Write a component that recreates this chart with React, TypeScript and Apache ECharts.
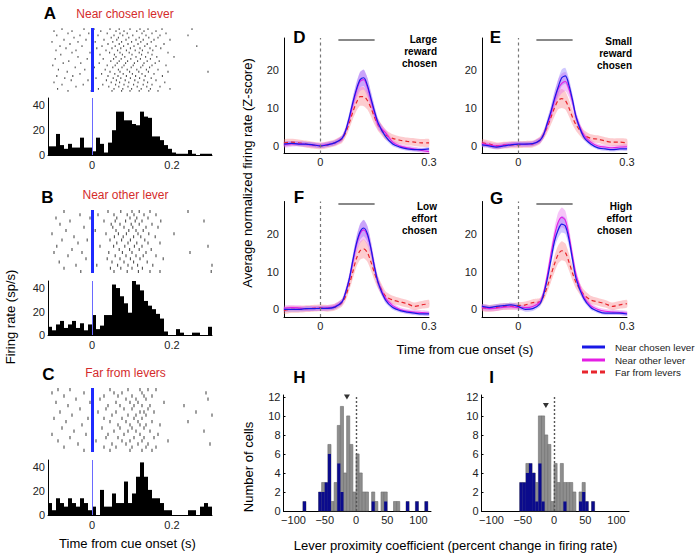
import React, { useEffect, useRef } from 'react';
import * as echarts from 'echarts';

const FONT = '"Liberation Sans", Arial, Helvetica, sans-serif';

// ---------- Panels A-C: PSTH (10 ms bins starting at -0.11 s) ----------
const psthStart = -0.11;
const psthWidth = 0.01;
const psthA = [7, 7, 17, 8, 5, 9, 6, 6, 14, 6, 6, 3, 14, 9, 2, 10, 20, 35, 35, 28, 28, 25, 24, 35, 31, 30, 15, 15, 12, 8, 5, 2, 1, 1, 1, 4, 1, 0, 1, 1, 1];
const psthB = [7, 4, 9, 12, 6, 9, 12, 6, 10, 4, 9, 17, 5, 8, 17, 17, 43, 40, 33, 27, 19, 46, 43, 38, 29, 25, 22, 18, 14, 3, 0, 0, 5, 2, 0, 0, 2, 2, 0, 0, 7];
const psthC = [10, 4, 14, 10, 7, 14, 10, 7, 14, 10, 4, 7, 0, 21, 7, 7, 18, 10, 10, 28, 10, 18, 32, 44, 32, 21, 14, 14, 10, 4, 4, 0, 0, 0, 0, 4, 4, 0, 7, 10, 7];
const cueLine = -0.003;

// rasters: spike times (ms) per trial row
const rasterA = [
  [-75, -20, 5, 45, 68, 95, 120, 140, 175, 250],
  [-95, -50, 22, 60, 80, 112, 130, 160],
  [-60, -8, 38, 70, 88, 125, 150, 185],
  [-88, -30, 15, 55, 77, 102, 135, 170, 240],
  [-45, 48, 66, 92, 118, 142, 165],
  [-70, -15, 30, 62, 85, 110, 128, 155, 195],
  [-100, -35, 8, 52, 74, 99, 122, 148],
  [-55, 40, 68, 90, 115, 138, 180],
  [-80, -25, 25, 58, 79, 105, 132, 160, 262],
  [-65, 12, 50, 72, 96, 120, 145, 172],
  [-90, -40, 35, 64, 86, 108, 126, 152],
  [-50, -5, 44, 70, 93, 118, 140, 190],
  [-78, 20, 56, 76, 100, 124, 150],
  [-35, 60, 82, 110, 134, 162, 205],
  [-92, -12, 28, 54, 73, 97, 121, 146],
  [-58, 47, 68, 89, 114, 138, 168],
  [-72, -28, 18, 63, 84, 106, 130, 158],
  [-98, 38, 58, 80, 103, 127, 150, 185],
  [-42, 6, 52, 75, 98, 122, 144],
  [-84, -18, 33, 66, 88, 112, 136, 165],
  [-62, 45, 70, 94, 117, 141, 190, 290],
  [-30, 24, 57, 78, 101, 125, 155],
  [-88, -48, 40, 65, 86, 109, 133, 176],
  [-68, 10, 53, 72, 96, 119, 148],
  [-52, -10, 36, 61, 83, 107, 130, 160],
  [-95, 48, 69, 92, 115, 139, 182],
  [-75, -22, 27, 59, 80, 104, 128, 150],
  [-40, 42, 67, 90, 113, 137, 170],
  [-86, 16, 55, 77, 99, 123, 146, 195],
  [-60, -2, 50, 74, 95, 118, 142, 165],
];
const rasterB = [
  [-70, 40, 72, 100, 118, 145, 240],
  [-30, 15, 55, 88, 105, 130, 160],
  [-90, -5, 62, 95, 112, 140],
  [-55, 30, 58, 84, 108, 125, 172, 280],
  [-80, 48, 70, 98, 118, 150],
  [-20, 52, 80, 102, 135, 165],
  [-65, 8, 60, 92, 110, 128],
  [-100, 35, 66, 86, 115, 142, 205],
  [-45, 56, 78, 104, 122, 158],
  [-75, -12, 45, 74, 96, 132],
  [-35, 62, 90, 112, 140, 170],
  [-88, 20, 54, 82, 106, 125, 290],
  [-50, 68, 94, 118, 148],
  [-95, -25, 42, 76, 100, 135, 245],
  [-60, 58, 85, 110, 128, 160],
  [-15, 38, 70, 96, 120, 178],
  [-82, 50, 80, 104, 138],
  [-40, 12, 64, 90, 114, 152, 300],
  [-70, 46, 72, 100, 126],
  [-28, 55, 88, 116, 145, 170, 298],
];
const rasterC = [
  [-85, -55, 45, 90, 120, 140, 160],
  [-100, -20, 55, 75, 125, 285],
  [-70, 30, 65, 100, 130, 150],
  [-40, 20, 85, 110, 135, 290],
  [-90, -5, 60, 95, 115, 180],
  [-60, 40, 70, 105, 125, 145, 230],
  [-30, 35, 80, 100, 140],
  [-80, 15, 60, 120, 130, 155, 260],
  [-50, 50, 90, 110, 135, 300],
  [-95, -10, 30, 75, 105, 125],
  [-65, 45, 85, 115, 150, 240],
  [-25, 65, 95, 120, 135, 170],
  [-75, 25, 70, 100, 130],
  [-45, 55, 90, 110, 145, 280],
  [-100, -15, 40, 80, 120, 165],
  [-55, 35, 65, 105, 130, 155],
  [-85, 10, 75, 95, 125, 190],
  [-35, 50, 85, 115, 140, 295],
  [-70, 30, 60, 100, 135, 160],
  [-20, 45, 95, 125, 150],
];

// ---------- Panels D-G: population averages ----------
const timeT = [-0.1, -0.08, -0.06, -0.04, -0.02, 0, 0.02, 0.04, 0.06, 0.07, 0.08, 0.09, 0.1, 0.11, 0.12, 0.13, 0.14, 0.15, 0.16, 0.18, 0.2, 0.22, 0.24, 0.26, 0.28, 0.3];
const semBlue = [0.6, 0.6, 0.6, 0.6, 0.6, 0.6, 0.6, 0.6, 0.7, 0.9, 1.2, 1.5, 1.8, 2.1, 2.2, 2.1, 1.8, 1.5, 1.2, 0.8, 0.6, 0.5, 0.5, 0.5, 0.5, 0.5];
const semMag = [0.7, 0.7, 0.7, 0.7, 0.7, 0.7, 0.7, 0.7, 0.8, 1, 1.3, 1.7, 2.1, 2.5, 2.6, 2.5, 2.1, 1.7, 1.3, 0.9, 0.7, 0.6, 0.6, 0.6, 0.6, 0.6];
const semRed = [0.9, 0.9, 0.9, 0.9, 0.9, 0.9, 0.9, 0.9, 1, 1.2, 1.5, 1.9, 2.2, 2.4, 2.5, 2.4, 2.2, 1.9, 1.6, 1.3, 1.1, 1, 1, 1, 1, 1];

const dBlue = [0.5, 0.7, 0.5, 0.5, 0.3, 0, 0.3, 0.8, 2, 4, 7.5, 11.5, 15, 17.5, 18, 16, 12.5, 9, 6, 2.5, 0.5, -0.3, -0.8, -1, -1, -0.8];
const dMag = [0.3, 0.5, 0.6, 0.4, 0.2, 0.1, 0.4, 0.8, 2, 4, 7, 11, 14.5, 17, 17.5, 15.5, 12, 8.5, 5.5, 3.5, 1, 0, -0.5, -0.8, -1.2, -1.5];
const dRed = [0.8, 1, 0.8, 0.5, 0.2, 0, 0.3, 0.8, 1.8, 3.5, 6, 9, 11.5, 13, 13, 12, 10, 7.5, 5.5, 3, 2, 1.5, 1.2, 1, 0.8, 0.8];
const eBlue = [0.3, 0, -0.3, 0, 0.3, 0.5, 0.5, 0.6, 1.5, 3, 6, 9, 12.5, 15.5, 18, 18.5, 16, 12, 7.5, 2.5, 0.5, -0.5, -0.8, -1, -0.8, -0.8];
const eMag = [0.6, 0.3, 0, 0.2, 0.4, 0.5, 0.4, 0.6, 1.5, 3, 5.5, 8.5, 12, 15, 16.5, 17, 15, 11.5, 7.5, 3, 1, 0, -0.3, -0.5, -0.3, -0.2];
const eRed = [0.8, 0.5, 0, 0.2, 0.3, 0.3, 0.4, 0.5, 1.5, 3, 5, 7.5, 10, 12, 12.5, 12, 10, 7.5, 5.5, 3, 2, 1.8, 1.3, 1, 1, 0.8];
const fBlue = [0, 0, 0, 0.2, 0.2, 0.3, 0.3, 0.6, 2, 4.5, 8, 13, 17.5, 20.5, 21.5, 20, 16, 11, 7, 2.5, 0.5, -0.3, -0.7, -1, -1.2, -1.2];
const fMag = [0.3, 0.5, 0.4, 0.2, 0.3, 0.3, 0.4, 0.8, 2, 4.5, 8, 12.5, 17, 20, 21, 19.5, 16, 11, 7, 3, 1, 0, -0.5, -0.7, -0.8, -1];
const fRed = [-0.3, 0, 0, 0.2, 0.3, 0.4, 0.3, 0.6, 1.8, 3.5, 6.5, 10, 13.5, 15.5, 16, 15, 12.5, 9.5, 7, 3.5, 2.5, 2, 1.5, 0.8, 1.2, 1.5];
const gBlue = [0.8, 0.5, 0.8, 1, 1.2, 0.8, 0, 0.2, 1.5, 4, 8, 13, 18, 21, 22.5, 22, 18.5, 13, 8, 3, 0.5, -0.5, -1, -1, -1, -1.2];
const gMag = [0.5, 0.2, 0.3, 0.6, 0.7, 0.5, 0.5, 0.8, 2, 4.5, 9, 14.5, 19.5, 23, 24.3, 23.5, 19.5, 14, 9, 3.5, 1, 0, -0.5, -0.7, -0.8, -1];
const gRed = [0.5, 0.3, 0.5, 0.8, 0.8, 1, 1.2, 1.8, 2, 3.5, 6, 9, 12, 14.5, 15.5, 15, 12.5, 9.5, 7, 4, 2.5, 2, 1.5, 0.8, 1.2, 1.5];
const sigBar = [0.05, 0.15];
const sigBarY = 28;

// ---------- Panels H-I: lever proximity coefficient histograms (5-unit bins) ----------
const coefBinWidth = 5;
const hBinStart = [-85, -60, -55, -50, -45, -40, -35, -30, -25, -20, -15, -10, -5, 0, 5, 10, 15, 25, 30, 40, 45, 60, 65, 80, 95, 110];
const hTotal = [1, 2, 3, 3, 7, 1, 3, 9, 11, 4, 10, 7, 2, 6, 4, 2, 2, 2, 1, 2, 2, 1, 1, 1, 1, 1];
const hSig = [1, 2, 2, 3, 6, 0, 0, 5, 2, 0, 0, 0, 0, 0, 0, 0, 0, 1, 0, 0, 1, 0, 0, 1, 1, 1];
const hMedian = [-14.5, 12];
const iBinStart = [-55, -50, -45, -40, -35, -30, -25, -20, -15, -10, -5, 0, 5, 10, 15, 20, 25, 30, 40, 45, 50, 60];
const iTotal = [3, 3, 5, 5, 4, 3, 10, 10, 8, 7, 1, 5, 3, 5, 3, 3, 3, 2, 2, 3, 1, 1];
const iSig = [3, 3, 4, 5, 4, 1, 5, 1, 0, 0, 0, 0, 0, 0, 1, 0, 0, 0, 1, 2, 1, 1];
const iMedian = [-13, 11.1];

const legendNames = ['Near chosen lever', 'Near other lever', 'Far from levers'];
const BLUE = '#1818e6';
const MAG = '#e41ee4';
const RED = '#e8252d';

function fmtFilter(allowed: number[], f?: (v: number) => string) {
  return (v: number) => {
    const hit = allowed.find((a) => Math.abs(a - v) < 1e-9);
    if (hit === undefined) return '';
    return f ? f(hit) : String(hit);
  };
}

function histSeries(idx: number, data: number[][], fill: string, stroke?: string, extra?: any) {
  return {
    type: 'custom',
    xAxisIndex: idx,
    yAxisIndex: idx,
    data,
    encode: { x: [0, 1], y: 2 },
    silent: true,
    renderItem: (_p: any, api: any) => {
      const a = api.coord([api.value(0), 0]);
      const b = api.coord([api.value(1), api.value(2)]);
      return {
        type: 'rect',
        shape: { x: a[0], y: b[1], width: b[0] - a[0], height: a[1] - b[1] },
        style: { fill, stroke: stroke || null, lineWidth: stroke ? 0.6 : 0 },
      };
    },
    ...(extra || {}),
  };
}

function bandSeries(idx: number, mean: number[], sem: number[], fill: string, extra?: any) {
  return {
    type: 'custom',
    xAxisIndex: idx,
    yAxisIndex: idx,
    data: [[0, 0]],
    encode: { x: 0, y: 1 },
    silent: true,
    z: 1,
    renderItem: (_p: any, api: any) => {
      const up = timeT.map((t, i) => api.coord([t, mean[i] + sem[i]]));
      const lo = timeT.map((t, i) => api.coord([t, mean[i] - sem[i]])).reverse();
      return { type: 'polygon', shape: { points: up.concat(lo), smooth: 0.2 }, style: { fill } };
    },
    ...(extra || {}),
  };
}

function lineSeries(idx: number, name: string, mean: number[], color: string, width: number, dashed: boolean, extra?: any) {
  return {
    type: 'line',
    name,
    xAxisIndex: idx,
    yAxisIndex: idx,
    data: timeT.map((t, i) => [t, mean[i]]),
    symbol: 'none',
    showSymbol: false,
    smooth: 0.3,
    z: 3,
    lineStyle: { color, width, type: dashed ? [4, 3] : 'solid' },
    itemStyle: { color },
    ...(extra || {}),
  };
}

export default function App() {
  const ref = useRef<HTMLDivElement>(null);
  useEffect(() => {
    if (!ref.current) return;
    const chart = echarts.init(ref.current, undefined, { renderer: 'svg' });

    const axisLine = { show: true, onZero: false, lineStyle: { color: '#000', width: 1 } };
    const label = { fontSize: 11, color: '#222', fontFamily: FONT };

    const grids: any[] = [];
    const xAxes: any[] = [];
    const yAxes: any[] = [];
    const series: any[] = [];

    // A-C raster + PSTH
    const psthSets = [
      { raster: rasterA, psth: psthA, rTop: 28, rH: 64, hTop: 98, hH: 57, sym: [1.1, 1.8] },
      { raster: rasterB, psth: psthB, rTop: 210, rH: 63, hTop: 281, hH: 54, sym: [1.1, 3] },
      { raster: rasterC, psth: psthC, rTop: 388, rH: 64, hTop: 460, hH: 55, sym: [1.1, 3.3] },
    ];
    psthSets.forEach((s) => {
      // raster
      let idx = grids.length;
      grids.push({ left: 48, top: s.rTop, width: 164, height: s.rH });
      xAxes.push({ gridIndex: idx, type: 'value', min: -0.11, max: 0.3, show: false });
      yAxes.push({ gridIndex: idx, type: 'value', min: -0.5, max: s.raster.length - 0.5, inverse: true, show: false });
      series.push({
        type: 'scatter',
        xAxisIndex: idx,
        yAxisIndex: idx,
        data: s.raster.flatMap((row, r) => row.map((ms) => [ms / 1000, r])),
        symbol: 'rect',
        symbolSize: s.sym,
        itemStyle: { color: '#222' },
        silent: true,
        markLine: {
          silent: true,
          symbol: ['none', 'none'],
          label: { show: false },
          lineStyle: { color: '#1f2bff', width: 3, type: 'solid' },
          data: [{ xAxis: cueLine }],
        },
      });
      // psth
      idx = grids.length;
      grids.push({ left: 48, top: s.hTop, width: 164, height: s.hH });
      xAxes.push({
        gridIndex: idx, type: 'value', min: -0.11, max: 0.3,
        axisLine, axisTick: { show: false }, splitLine: { show: false },
        axisLabel: { ...label, margin: 4, customValues: [0, 0.2], formatter: fmtFilter([0, 0.2]) },
      });
      yAxes.push({
        gridIndex: idx, type: 'value', min: 0, max: 46, interval: 20,
        axisLine, axisTick: { show: false }, splitLine: { show: false },
        axisLabel: { ...label, margin: 3, customValues: [0, 20, 40], formatter: fmtFilter([0, 20, 40]) },
      });
      series.push(
        histSeries(
          idx,
          s.psth.map((v, i) => [psthStart + i * psthWidth, psthStart + (i + 1) * psthWidth, v]),
          '#000',
          undefined,
          {
            markLine: {
              silent: true,
              symbol: ['none', 'none'],
              label: { show: false },
              lineStyle: { color: '#6a6aff', width: 1, type: 'solid' },
              data: [{ xAxis: cueLine }],
            },
          }
        )
      );
    });

    // D-G
    const avgSets = [
      { left: 284, top: 38, b: dBlue, m: dMag, r: dRed },
      { left: 482, top: 38, b: eBlue, m: eMag, r: eRed },
      { left: 284, top: 201.5, b: fBlue, m: fMag, r: fRed },
      { left: 482, top: 201.5, b: gBlue, m: gMag, r: gRed },
    ];
    avgSets.forEach((s) => {
      const idx = grids.length;
      grids.push({ left: s.left, top: s.top, width: 145, height: 115.5 });
      xAxes.push({
        gridIndex: idx, type: 'value', min: -0.1, max: 0.3,
        axisLine, axisTick: { show: false }, splitLine: { show: false },
        axisLabel: { ...label, margin: 3, customValues: [0, 0.3], formatter: fmtFilter([0, 0.3]) },
      });
      yAxes.push({
        gridIndex: idx, type: 'value', min: -2, max: 28.5,
        axisLine, axisTick: { show: false }, splitLine: { show: false },
        axisLabel: { ...label, margin: 5, customValues: [0, 10, 20], formatter: fmtFilter([0, 10, 20]) },
      });
      series.push(
        bandSeries(idx, s.r, semRed, 'rgba(250,120,130,0.38)', {
          markLine: {
            silent: true,
            symbol: ['none', 'none'],
            label: { show: false },
            lineStyle: { color: '#777', width: 1.2, type: [3, 3] },
            data: [{ xAxis: 0 }],
          },
        })
      );
      series.push(bandSeries(idx, s.m, semMag, 'rgba(230,90,235,0.35)'));
      series.push(bandSeries(idx, s.b, semBlue, 'rgba(120,100,255,0.35)'));
      series.push(lineSeries(idx, legendNames[2], s.r, RED, 1.2, true));
      series.push(lineSeries(idx, legendNames[1], s.m, MAG, 1.1, false));
      series.push(
        lineSeries(idx, legendNames[0], s.b, BLUE, 1.2, false, {
          markLine: {
            silent: true,
            symbol: ['none', 'none'],
            label: { show: false },
            lineStyle: { color: '#888', width: 2, type: 'solid' },
            data: [[{ coord: [sigBar[0], sigBarY] }, { coord: [sigBar[1], sigBarY] }]],
          },
        })
      );
    });

    // H-I
    const coefSets = [
      { left: 283.5, bins: hBinStart, total: hTotal, sig: hSig, med: hMedian },
      { left: 481.5, bins: iBinStart, total: iTotal, sig: iSig, med: iMedian },
    ];
    coefSets.forEach((s) => {
      const idx = grids.length;
      grids.push({ left: s.left, top: 395, width: 147.5, height: 116 });
      xAxes.push({
        gridIndex: idx, type: 'value', min: -116, max: 120,
        axisLine, axisTick: { show: false }, splitLine: { show: false },
        axisLabel: {
          ...label, margin: 3, customValues: [-100, -50, 0, 50, 100],
          formatter: fmtFilter([-100, -50, 0, 50, 100], (v) => String(v).replace('-', '\u2212')),
        },
      });
      yAxes.push({
        gridIndex: idx, type: 'value', min: 0, max: 12.2, interval: 2,
        axisLine,
        axisTick: { show: true, inside: true, length: 2, lineStyle: { color: '#000' }, customValues: [0, 2, 4, 6, 8, 10, 12] },
        splitLine: { show: false },
        axisLabel: { ...label, margin: 3, customValues: [0, 2, 4, 6, 8, 10, 12], formatter: fmtFilter([0, 2, 4, 6, 8, 10, 12]) },
      });
      series.push(histSeries(idx, s.bins.map((b, i) => [b, b + coefBinWidth, s.total[i]]), '#8e8e8e', '#6f6f6f'));
      series.push(histSeries(idx, s.bins.map((b, i) => [b, b + coefBinWidth, s.sig[i]]), '#0b0b8c'));
      series.push({
        type: 'scatter',
        xAxisIndex: idx,
        yAxisIndex: idx,
        data: [s.med],
        symbol: 'triangle',
        symbolRotate: 180,
        symbolSize: [6, 5],
        itemStyle: { color: '#000' },
        silent: true,
        markLine: {
          silent: true,
          symbol: ['none', 'none'],
          label: { show: false },
          lineStyle: { color: '#555', width: 1.4, type: [2, 2] },
          data: [{ xAxis: 0 }],
        },
      });
    });

    const txt = (text: string, x: number, y: number, font: string, fill = '#000', align = 'left', valign = 'middle', rotation = 0, lineHeight?: number) => ({
      type: 'text', x, y, rotation, silent: true,
      style: { text, font, fill, textAlign: align, textVerticalAlign: valign, lineHeight },
    });
    const letterFont = 'bold 17px ' + FONT;
    const redFont = '12px ' + FONT;
    const condFont = 'bold 10px ' + FONT;
    const titleFont = '13px ' + FONT;
    const legendFont = '9.8px ' + FONT;
    const RED_T = '#d42b2b';

    const legendRows = [
      { name: legendNames[0], color: BLUE, dash: null as number[] | null, y: 347 },
      { name: legendNames[1], color: MAG, dash: null as number[] | null, y: 360 },
      { name: legendNames[2], color: RED, dash: [6, 3], y: 372 },
    ];
    const legendGraphics = legendRows.flatMap((r) => [
      {
        type: 'line', silent: true,
        shape: { x1: 582, y1: r.y, x2: 605, y2: r.y },
        style: { stroke: r.color, lineWidth: 3, lineDash: r.dash || undefined },
      },
      txt(r.name, 615, r.y, legendFont, '#222', 'left'),
    ]);

    const graphics = [
      txt('A', 50, 13, letterFont, '#000', 'center'),
      txt('B', 47.5, 197, letterFont, '#000', 'center'),
      txt('C', 48.5, 374, letterFont, '#000', 'center'),
      txt('D', 299.5, 37, letterFont, '#000', 'center'),
      txt('E', 495.5, 37, letterFont, '#000', 'center'),
      txt('F', 299, 197, letterFont, '#000', 'center'),
      txt('G', 496.5, 198, letterFont, '#000', 'center'),
      txt('H', 299.5, 377, letterFont, '#000', 'center'),
      txt('I', 491.5, 377, letterFont, '#000', 'center'),
      txt('Near chosen lever', 125, 14, redFont, RED_T, 'center'),
      txt('Near other lever', 125.5, 195, redFont, RED_T, 'center'),
      txt('Far from levers', 125.5, 373, redFont, RED_T, 'center'),
      txt('Large\nreward\nchosen', 437, 33, condFont, '#000', 'right', 'top', 0, 12),
      txt('Small\nreward\nchosen', 632, 35, condFont, '#000', 'right', 'top', 0, 12),
      txt('Low\neffort\nchosen', 437, 200, condFont, '#000', 'right', 'top', 0, 12),
      txt('High\neffort\nchosen', 632, 200, condFont, '#000', 'right', 'top', 0, 12),
      txt('Firing rate (sp/s)', 10, 317, titleFont, '#000', 'center', 'middle', Math.PI / 2),
      txt('Time from cue onset (s)', 127.5, 543, titleFont, '#000', 'center'),
      txt('Average normalized firing rate (Z-score)', 247, 173, titleFont, '#000', 'center', 'middle', Math.PI / 2),
      txt('Time from cue onset (s)', 465, 349, titleFont, '#000', 'center'),
      txt('Number of cells', 248, 467, titleFont, '#000', 'center', 'middle', Math.PI / 2),
      txt('Lever proximity coefficient (percent change in firing rate)', 455.5, 545, titleFont, '#000', 'center'),
      ...legendGraphics,
    ];

    chart.setOption({
      animation: false,
      backgroundColor: '#fff',
      textStyle: { fontFamily: FONT },
      grid: grids,
      xAxis: xAxes,
      yAxis: yAxes,
      series,
      graphic: graphics,
    });
    return () => chart.dispose();
  }, []);
  return <div ref={ref} style={{ width: 700, height: 554, position: 'absolute', left: 0, top: 0 }} />;
}
